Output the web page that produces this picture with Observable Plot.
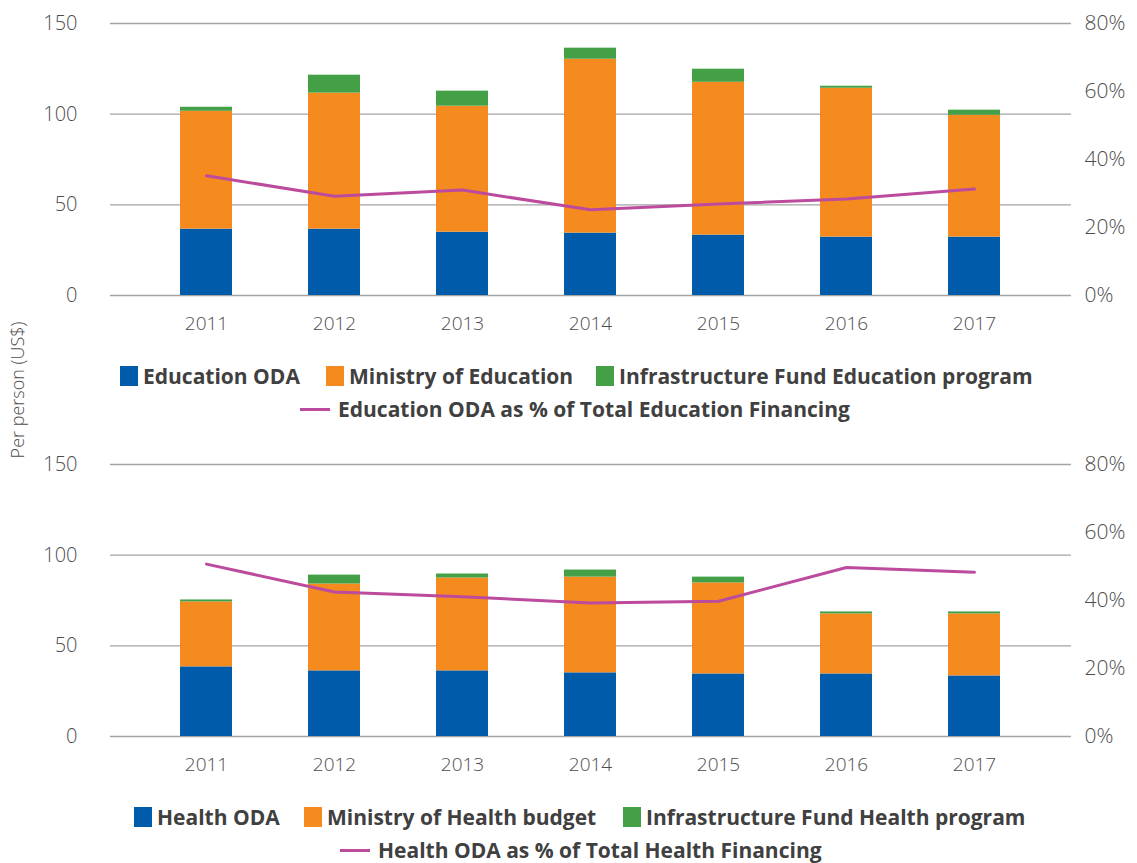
<!DOCTYPE html>
<html>
<head>
<meta charset="utf-8">
<script src="https://cdn.jsdelivr.net/npm/d3@7"></script>
<script src="https://cdn.jsdelivr.net/npm/@observablehq/plot@0.6"></script>
<style>
  html, body { margin: 0; padding: 0; background: #fff; }
  #root { position: relative; width: 1137px; height: 863px; font-family: "Open Sans", "Noto Sans", sans-serif; overflow: hidden; }
  .panel { position: absolute; left: 0; }
  .leg { position: absolute; display: flex; align-items: center; font-weight: 700; font-size: 21px; color: #404040; white-space: nowrap; transform: translateY(-50%); }
  .sw { width: 18px; height: 20px; margin-right: 5px; }
  .ln { width: 30px; height: 3px; margin-right: 8px; }
  #ylab { position: absolute; left: 17px; top: 390px; transform: translate(-50%, -50%) rotate(-90deg); font-size: 18px; font-weight: 300; color: #4d4d4d; white-space: nowrap; }
</style>
</head>
<body>
<div id="root">
  <div id="c1" class="panel" style="top:0px"></div>
  <div id="c2" class="panel" style="top:441px"></div>
  <div id="ylab">Per person (US$)</div>
</div>
<script>
const years = ["2011", "2012", "2013", "2014", "2015", "2016", "2017"];

// Education panel (US$ per person)
const eduSeries = ["Education ODA", "Ministry of Education", "Infrastructure Fund Education program"];
const eduODA = [36.6, 36.6, 34.9, 34.4, 33.3, 32.2, 32.2];
const eduMinistry = [65.0, 75.0, 69.5, 95.9, 84.3, 82.1, 67.2];
const eduInfra = [2.2, 9.9, 8.3, 6.1, 7.2, 1.1, 2.8];
const eduPctLabel = "Education ODA as % of Total Education Financing";
const eduPct = [35.2, 29.2, 31.0, 25.2, 26.9, 28.4, 31.3];

// Health panel (US$ per person)
const healthSeries = ["Health ODA", "Ministry of Health budget", "Infrastructure Fund Health program"];
const healthODA = [38.4, 36.2, 36.2, 35.1, 34.5, 34.5, 33.4];
const healthMinistry = [35.8, 47.9, 51.2, 52.8, 50.2, 33.1, 34.2];
const healthInfra = [1.1, 4.9, 2.2, 3.9, 3.2, 1.1, 1.1];
const healthPctLabel = "Health ODA as % of Total Health Financing";
const healthPct = [50.7, 42.5, 41.1, 39.3, 39.8, 49.7, 48.3];

// Axis ticks
const leftTicks = [0, 50, 100, 150];
const rightTicks = [0, 20, 40, 60, 80];

const colors = ["#005BAA", "#F58A1F", "#43A047"];
const lineColor = "#BC4B9E";
const LEFT_MAX = 150, RIGHT_MAX = 80;

function panel(series, vals, pct) {
  const rows = [];
  series.forEach((s, i) => years.forEach((y, j) => rows.push({year: y, series: s, value: vals[i][j]})));
  const pts = years.map((y, j) => ({year: y, pct: pct[j]}));
  return Plot.plot({
    width: 1137,
    height: 340,
    marginLeft: 110,
    marginRight: 66,
    marginTop: 23,
    marginBottom: 45,
    style: {fontFamily: "'Open Sans', 'Noto Sans', sans-serif", fontSize: "19px", color: "#4d4d4d", background: "#fff", fontWeight: 300},
    x: {type: "band", domain: years, paddingInner: 0.59, paddingOuter: 0.534, label: null},
    y: {domain: [0, LEFT_MAX], label: null},
    color: {domain: series, range: colors},
    marks: [
      Plot.gridY(leftTicks, {stroke: "#a3a3a3", strokeOpacity: 1, strokeWidth: 1.4}),
      Plot.barY(rows, {x: "year", y: "value", fill: "series", order: series}),
      Plot.line(pts, {x: "year", y: d => d.pct * LEFT_MAX / RIGHT_MAX, stroke: lineColor, strokeWidth: 3}),
      Plot.axisY({anchor: "left", ticks: leftTicks, tickSize: 0, tickPadding: 33, label: null, fontSize: 20}),
      Plot.axisY({anchor: "right", ticks: rightTicks.map(p => p * LEFT_MAX / RIGHT_MAX), tickFormat: v => Math.round(v * RIGHT_MAX / LEFT_MAX) + "%", tickSize: 0, tickPadding: 13, label: null, fontSize: 21}),
      Plot.axisX({tickSize: 0, tickPadding: 21, label: null, fontSize: 19})
    ]
  });
}

document.getElementById("c1").appendChild(panel(eduSeries, [eduODA, eduMinistry, eduInfra], eduPct));
document.getElementById("c2").appendChild(panel(healthSeries, [healthODA, healthMinistry, healthInfra], healthPct));

const root = document.getElementById("root");
function legItem(x, y, kind, color, text) {
  const d = document.createElement("div");
  d.className = "leg";
  d.style.left = x + "px";
  d.style.top = y + "px";
  const s = document.createElement("span");
  s.className = kind === "line" ? "ln" : "sw";
  s.style.background = color;
  d.appendChild(s);
  const t = document.createElement("span");
  t.textContent = text;
  d.appendChild(t);
  root.appendChild(d);
}
legItem(120, 376, "box", colors[0], eduSeries[0]);
legItem(326, 376, "box", colors[1], eduSeries[1]);
legItem(596, 376, "box", colors[2], eduSeries[2]);
legItem(300, 409, "line", lineColor, eduPctLabel);
legItem(134, 817, "box", colors[0], healthSeries[0]);
legItem(304, 817, "box", colors[1], healthSeries[1]);
legItem(623, 817, "box", colors[2], healthSeries[2]);
legItem(340, 850, "line", lineColor, healthPctLabel);
</script>
</body>
</html>
